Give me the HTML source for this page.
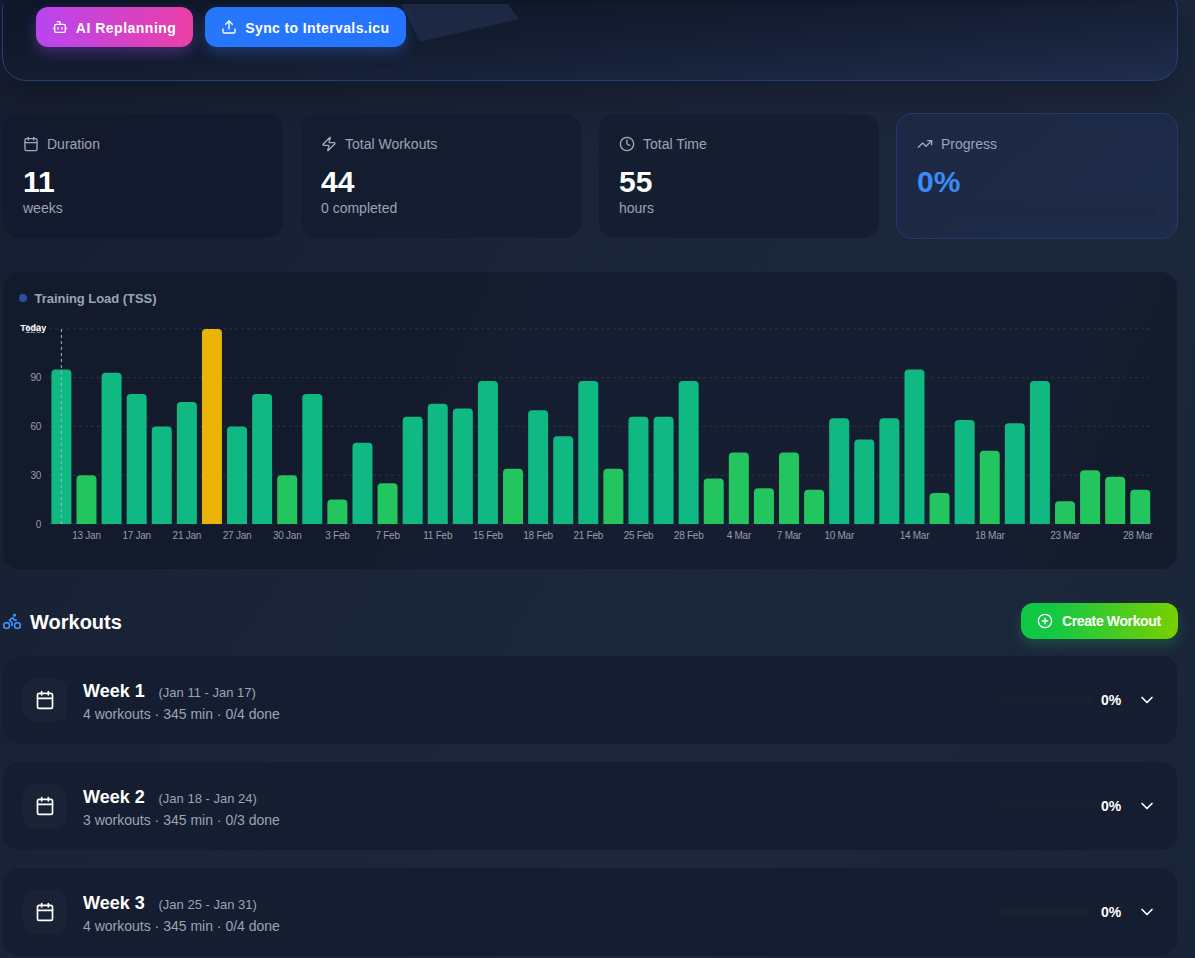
<!DOCTYPE html>
<html><head><meta charset="utf-8">
<style>
html,body{margin:0;padding:0;}
body{width:1195px;height:958px;overflow:hidden;position:relative;
 background:linear-gradient(124deg,#161d30 0%,#182134 20%,#1c263b 50%,#1c273c 70%,#1a2438 100%);
 font-family:"Liberation Sans",sans-serif;}
.abs{position:absolute;}
.t{white-space:nowrap;}
.hdr{left:2px;top:-14px;width:1174px;height:93px;border:1px solid #21407a;border-radius:24px;
 background:linear-gradient(to bottom right,#0d1525 0%,#131c30 50%,#1f2c4c 100%);box-shadow:0 12px 36px rgba(0,0,0,0.28);}
.card{border-radius:16px;}
.stat{background:#131b2e;}
.stat.hl{background:linear-gradient(135deg,#1c2843,#1e2b49);border:1px solid #1f3c72;box-sizing:border-box;}
.chart{background:linear-gradient(112deg,#131a2c 0%,#131a2c 35%,#151e30 42%,#151e30 86%,#131a2c 93%,#131a2c 100%);}
.week{background:#151d30;}
.ibox{background:#1a2335;border-radius:12px;}
.btn{border-radius:12px;}
</style></head><body>
<div class="abs hdr"></div>
<svg class="abs" style="left:0;top:0" width="1195" height="60"><defs><linearGradient id="tg" x1="0" x2="1" y1="0" y2="0"><stop offset="0" stop-color="#0f1627" stop-opacity="1"/><stop offset="0.6" stop-color="#0f1627" stop-opacity="0.8"/><stop offset="1" stop-color="#0f1627" stop-opacity="0"/></linearGradient></defs><rect x="3" y="0" width="1173" height="4" fill="url(#tg)"/><polygon points="401,4 507.5,4 519,19.3 420.2,41.6" fill="#1d2943"/></svg>
<div class="abs btn" style="left:36px;top:7px;width:157px;height:40px;background:linear-gradient(90deg,#b845f0,#ec3fa6);box-shadow:0 6px 14px rgba(168,85,247,0.30)"></div>
<svg class="abs" style="left:52px;top:19px" width="16" height="16" viewBox="0 0 24 24" fill="none" stroke="#ffffff" stroke-width="2" stroke-linecap="round" stroke-linejoin="round"><path d="M12 8V4H8"/><rect width="16" height="12" x="4" y="8" rx="2"/><path d="M2 14h2"/><path d="M20 14h2"/><path d="M15 13v2"/><path d="M9 13v2"/></svg>
<div class="abs t" style="left:75.8px;top:20.75px;font-size:14px;line-height:14px;color:#ffffff;font-weight:700;letter-spacing:0.5px;">AI Replanning</div>
<div class="abs btn" style="left:205px;top:7px;width:201px;height:40px;background:linear-gradient(90deg,#2777fd,#2474ff);box-shadow:0 6px 14px rgba(59,130,246,0.30)"></div>
<svg class="abs" style="left:221px;top:19px" width="16" height="16" viewBox="0 0 24 24" fill="none" stroke="#ffffff" stroke-width="2" stroke-linecap="round" stroke-linejoin="round"><path d="M21 15v4a2 2 0 0 1-2 2H5a2 2 0 0 1-2-2v-4"/><polyline points="17 8 12 3 7 8"/><line x1="12" x2="12" y1="3" y2="15"/></svg>
<div class="abs t" style="left:245.3px;top:20.95px;font-size:14px;line-height:14px;color:#ffffff;font-weight:700;letter-spacing:0.38px;">Sync to Intervals.icu</div>
<div class="abs card stat" style="left:3px;top:114px;width:280px;height:124px;background:#131a2d;"></div><svg class="abs" style="left:23px;top:136px" width="16" height="16" viewBox="0 0 24 24" fill="none" stroke="#a0abbb" stroke-width="2" stroke-linecap="round" stroke-linejoin="round"><path d="M8 2v4"/><path d="M16 2v4"/><rect width="18" height="18" x="3" y="4" rx="2"/><path d="M3 10h18"/></svg><div class="abs t" style="left:47px;top:137.15px;font-size:14px;line-height:14px;color:#9ba4b4;font-weight:400;letter-spacing:0px;">Duration</div><div class="abs t" style="left:23px;top:167.20px;font-size:30px;line-height:30px;color:#ffffff;font-weight:700;letter-spacing:0px;">11</div><div class="abs t" style="left:23px;top:200.95px;font-size:14px;line-height:14px;color:#9ba4b4;font-weight:400;letter-spacing:0px;">weeks</div><div class="abs card stat" style="left:301px;top:114px;width:280px;height:124px;background:#141c2f;"></div><svg class="abs" style="left:321px;top:136px" width="16" height="16" viewBox="0 0 24 24" fill="none" stroke="#a0abbb" stroke-width="2" stroke-linecap="round" stroke-linejoin="round"><path d="M4 14a1 1 0 0 1-.78-1.63l9.9-10.2a.5.5 0 0 1 .86.46l-1.92 6.02A1 1 0 0 0 13 10h7a1 1 0 0 1 .78 1.63l-9.9 10.2a.5.5 0 0 1-.86-.46l1.92-6.02A1 1 0 0 0 11 14z"/></svg><div class="abs t" style="left:345px;top:137.15px;font-size:14px;line-height:14px;color:#9ba4b4;font-weight:400;letter-spacing:0px;">Total Workouts</div><div class="abs t" style="left:321px;top:167.20px;font-size:30px;line-height:30px;color:#ffffff;font-weight:700;letter-spacing:0px;">44</div><div class="abs t" style="left:321px;top:200.95px;font-size:14px;line-height:14px;color:#9ba4b4;font-weight:400;letter-spacing:0px;">0 completed</div><div class="abs card stat" style="left:599px;top:114px;width:280px;height:124px;background:#151e31;"></div><svg class="abs" style="left:619px;top:136px" width="16" height="16" viewBox="0 0 24 24" fill="none" stroke="#a0abbb" stroke-width="2" stroke-linecap="round" stroke-linejoin="round"><circle cx="12" cy="12" r="10"/><polyline points="12 6 12 12 16 14"/></svg><div class="abs t" style="left:643px;top:137.15px;font-size:14px;line-height:14px;color:#9ba4b4;font-weight:400;letter-spacing:0px;">Total Time</div><div class="abs t" style="left:619px;top:167.20px;font-size:30px;line-height:30px;color:#ffffff;font-weight:700;letter-spacing:0px;">55</div><div class="abs t" style="left:619px;top:200.95px;font-size:14px;line-height:14px;color:#9ba4b4;font-weight:400;letter-spacing:0px;">hours</div><div class="abs card stat hl" style="left:896px;top:113px;width:282px;height:126px;"></div><svg class="abs" style="left:917px;top:136px" width="16" height="16" viewBox="0 0 24 24" fill="none" stroke="#a0abbb" stroke-width="2" stroke-linecap="round" stroke-linejoin="round"><polyline points="22 7 13.5 15.5 8.5 10.5 2 17"/><polyline points="16 7 22 7 22 13"/></svg><div class="abs t" style="left:941px;top:137.15px;font-size:14px;line-height:14px;color:#9ba4b4;font-weight:400;letter-spacing:0px;">Progress</div><div class="abs t" style="left:917px;top:167.20px;font-size:30px;line-height:30px;color:#3b8bf7;font-weight:700;letter-spacing:0px;">0%</div><div class="abs" style="left:917px;top:206px;width:240px;height:8px;border-radius:4px;background:#1c2844"></div>
<div class="abs card chart" style="left:3px;top:272px;width:1174px;height:297px"></div>
<div class="abs" style="left:19px;top:294px;width:8px;height:8px;border-radius:4px;background:#2650a0"></div>
<div class="abs t" style="left:34.6px;top:292.30px;font-size:13px;line-height:13px;color:#9ba4b4;font-weight:700;letter-spacing:-0.05px;">Training Load (TSS)</div>
<svg class="abs" style="left:0;top:0" width="1195" height="958" viewBox="0 0 1195 958">
<g><line x1="49" x2="1152" y1="523.90" y2="523.90" stroke="#2a3344" stroke-dasharray="3 3"/><line x1="49" x2="1152" y1="475.15" y2="475.15" stroke="#2a3344" stroke-dasharray="3 3"/><line x1="49" x2="1152" y1="426.40" y2="426.40" stroke="#2a3344" stroke-dasharray="3 3"/><line x1="49" x2="1152" y1="377.65" y2="377.65" stroke="#2a3344" stroke-dasharray="3 3"/><line x1="49" x2="1152" y1="328.90" y2="328.90" stroke="#2a3344" stroke-dasharray="3 3"/></g>
<g><path d="M51.40,523.90V373.52Q51.40,369.52 55.40,369.52H67.40Q71.40,369.52 71.40,373.52V523.90Z" fill="#10b981"/><path d="M76.49,523.90V479.15Q76.49,475.15 80.49,475.15H92.49Q96.49,475.15 96.49,479.15V523.90Z" fill="#22c55e"/><path d="M101.58,523.90V376.77Q101.58,372.77 105.58,372.77H117.58Q121.58,372.77 121.58,376.77V523.90Z" fill="#10b981"/><path d="M126.67,523.90V397.90Q126.67,393.90 130.67,393.90H142.67Q146.67,393.90 146.67,397.90V523.90Z" fill="#10b981"/><path d="M151.76,523.90V430.40Q151.76,426.40 155.76,426.40H167.76Q171.76,426.40 171.76,430.40V523.90Z" fill="#10b981"/><path d="M176.85,523.90V406.02Q176.85,402.02 180.85,402.02H192.85Q196.85,402.02 196.85,406.02V523.90Z" fill="#10b981"/><path d="M201.94,523.90V332.90Q201.94,328.90 205.94,328.90H217.94Q221.94,328.90 221.94,332.90V523.90Z" fill="#eab308"/><path d="M227.03,523.90V430.40Q227.03,426.40 231.03,426.40H243.03Q247.03,426.40 247.03,430.40V523.90Z" fill="#10b981"/><path d="M252.12,523.90V397.90Q252.12,393.90 256.12,393.90H268.12Q272.12,393.90 272.12,397.90V523.90Z" fill="#10b981"/><path d="M277.21,523.90V479.15Q277.21,475.15 281.21,475.15H293.21Q297.21,475.15 297.21,479.15V523.90Z" fill="#22c55e"/><path d="M302.30,523.90V397.90Q302.30,393.90 306.30,393.90H318.30Q322.30,393.90 322.30,397.90V523.90Z" fill="#10b981"/><path d="M327.39,523.90V503.52Q327.39,499.52 331.39,499.52H343.39Q347.39,499.52 347.39,503.52V523.90Z" fill="#22c55e"/><path d="M352.48,523.90V446.65Q352.48,442.65 356.48,442.65H368.48Q372.48,442.65 372.48,446.65V523.90Z" fill="#10b981"/><path d="M377.57,523.90V487.27Q377.57,483.27 381.57,483.27H393.57Q397.57,483.27 397.57,487.27V523.90Z" fill="#22c55e"/><path d="M402.66,523.90V420.65Q402.66,416.65 406.66,416.65H418.66Q422.66,416.65 422.66,420.65V523.90Z" fill="#10b981"/><path d="M427.75,523.90V407.65Q427.75,403.65 431.75,403.65H443.75Q447.75,403.65 447.75,407.65V523.90Z" fill="#10b981"/><path d="M452.84,523.90V412.52Q452.84,408.52 456.84,408.52H468.84Q472.84,408.52 472.84,412.52V523.90Z" fill="#10b981"/><path d="M477.93,523.90V384.90Q477.93,380.90 481.93,380.90H493.93Q497.93,380.90 497.93,384.90V523.90Z" fill="#10b981"/><path d="M503.02,523.90V472.65Q503.02,468.65 507.02,468.65H519.02Q523.02,468.65 523.02,472.65V523.90Z" fill="#22c55e"/><path d="M528.11,523.90V414.15Q528.11,410.15 532.11,410.15H544.11Q548.11,410.15 548.11,414.15V523.90Z" fill="#10b981"/><path d="M553.20,523.90V440.15Q553.20,436.15 557.20,436.15H569.20Q573.20,436.15 573.20,440.15V523.90Z" fill="#10b981"/><path d="M578.29,523.90V384.90Q578.29,380.90 582.29,380.90H594.29Q598.29,380.90 598.29,384.90V523.90Z" fill="#10b981"/><path d="M603.38,523.90V472.65Q603.38,468.65 607.38,468.65H619.38Q623.38,468.65 623.38,472.65V523.90Z" fill="#22c55e"/><path d="M628.47,523.90V420.65Q628.47,416.65 632.47,416.65H644.47Q648.47,416.65 648.47,420.65V523.90Z" fill="#10b981"/><path d="M653.56,523.90V420.65Q653.56,416.65 657.56,416.65H669.56Q673.56,416.65 673.56,420.65V523.90Z" fill="#10b981"/><path d="M678.65,523.90V384.90Q678.65,380.90 682.65,380.90H694.65Q698.65,380.90 698.65,384.90V523.90Z" fill="#10b981"/><path d="M703.74,523.90V482.40Q703.74,478.40 707.74,478.40H719.74Q723.74,478.40 723.74,482.40V523.90Z" fill="#22c55e"/><path d="M728.83,523.90V456.40Q728.83,452.40 732.83,452.40H744.83Q748.83,452.40 748.83,456.40V523.90Z" fill="#22c55e"/><path d="M753.92,523.90V492.15Q753.92,488.15 757.92,488.15H769.92Q773.92,488.15 773.92,492.15V523.90Z" fill="#22c55e"/><path d="M779.01,523.90V456.40Q779.01,452.40 783.01,452.40H795.01Q799.01,452.40 799.01,456.40V523.90Z" fill="#22c55e"/><path d="M804.10,523.90V493.77Q804.10,489.77 808.10,489.77H820.10Q824.10,489.77 824.10,493.77V523.90Z" fill="#22c55e"/><path d="M829.19,523.90V422.27Q829.19,418.27 833.19,418.27H845.19Q849.19,418.27 849.19,422.27V523.90Z" fill="#10b981"/><path d="M854.28,523.90V443.40Q854.28,439.40 858.28,439.40H870.28Q874.28,439.40 874.28,443.40V523.90Z" fill="#10b981"/><path d="M879.37,523.90V422.27Q879.37,418.27 883.37,418.27H895.37Q899.37,418.27 899.37,422.27V523.90Z" fill="#10b981"/><path d="M904.46,523.90V373.52Q904.46,369.52 908.46,369.52H920.46Q924.46,369.52 924.46,373.52V523.90Z" fill="#10b981"/><path d="M929.55,523.90V497.02Q929.55,493.02 933.55,493.02H945.55Q949.55,493.02 949.55,497.02V523.90Z" fill="#22c55e"/><path d="M954.64,523.90V423.90Q954.64,419.90 958.64,419.90H970.64Q974.64,419.90 974.64,423.90V523.90Z" fill="#10b981"/><path d="M979.73,523.90V454.77Q979.73,450.77 983.73,450.77H995.73Q999.73,450.77 999.73,454.77V523.90Z" fill="#22c55e"/><path d="M1004.82,523.90V427.15Q1004.82,423.15 1008.82,423.15H1020.82Q1024.82,423.15 1024.82,427.15V523.90Z" fill="#10b981"/><path d="M1029.91,523.90V384.90Q1029.91,380.90 1033.91,380.90H1045.91Q1049.91,380.90 1049.91,384.90V523.90Z" fill="#10b981"/><path d="M1055.00,523.90V505.15Q1055.00,501.15 1059.00,501.15H1071.00Q1075.00,501.15 1075.00,505.15V523.90Z" fill="#22c55e"/><path d="M1080.09,523.90V474.27Q1080.09,470.27 1084.09,470.27H1096.09Q1100.09,470.27 1100.09,474.27V523.90Z" fill="#22c55e"/><path d="M1105.18,523.90V480.77Q1105.18,476.77 1109.18,476.77H1121.18Q1125.18,476.77 1125.18,480.77V523.90Z" fill="#22c55e"/><path d="M1130.27,523.90V493.77Q1130.27,489.77 1134.27,489.77H1146.27Q1150.27,489.77 1150.27,493.77V523.90Z" fill="#22c55e"/></g>
<line x1="61.4" x2="61.4" y1="329" y2="524" stroke="#a3b6cc" stroke-dasharray="3 3" stroke-width="1"/>
<g font-family="Liberation Sans, sans-serif" font-size="10" letter-spacing="-0.25" fill="#959cab"><text x="41" y="527.50" text-anchor="end">0</text><text x="41" y="478.75" text-anchor="end">30</text><text x="41" y="430.00" text-anchor="end">60</text><text x="41" y="381.25" text-anchor="end">90</text><text x="41" y="332.50" text-anchor="end">120</text><text x="86.49" y="539.3" text-anchor="middle">13 Jan</text><text x="136.67" y="539.3" text-anchor="middle">17 Jan</text><text x="186.85" y="539.3" text-anchor="middle">21 Jan</text><text x="237.03" y="539.3" text-anchor="middle">27 Jan</text><text x="287.21" y="539.3" text-anchor="middle">30 Jan</text><text x="337.39" y="539.3" text-anchor="middle">3 Feb</text><text x="387.57" y="539.3" text-anchor="middle">7 Feb</text><text x="437.75" y="539.3" text-anchor="middle">11 Feb</text><text x="487.93" y="539.3" text-anchor="middle">15 Feb</text><text x="538.11" y="539.3" text-anchor="middle">18 Feb</text><text x="588.29" y="539.3" text-anchor="middle">21 Feb</text><text x="638.47" y="539.3" text-anchor="middle">25 Feb</text><text x="688.65" y="539.3" text-anchor="middle">28 Feb</text><text x="738.83" y="539.3" text-anchor="middle">4 Mar</text><text x="789.01" y="539.3" text-anchor="middle">7 Mar</text><text x="839.19" y="539.3" text-anchor="middle">10 Mar</text><text x="914.46" y="539.3" text-anchor="middle">14 Mar</text><text x="989.73" y="539.3" text-anchor="middle">18 Mar</text><text x="1065.00" y="539.3" text-anchor="middle">23 Mar</text><text x="1137.77" y="539.3" text-anchor="middle">28 Mar</text></g>
<text x="20.3" y="331.2" font-family="Liberation Sans, sans-serif" font-size="9" font-weight="bold" fill="#ffffff">Today</text>
</svg>
<svg class="abs" style="left:2px;top:611px" width="20" height="20" viewBox="0 0 24 24" fill="none" stroke="#3b8ff8" stroke-width="2" stroke-linecap="round" stroke-linejoin="round"><circle cx="18.5" cy="17.5" r="3.5"/><circle cx="5.5" cy="17.5" r="3.5"/><circle cx="15" cy="5" r="1"/><path d="M12 17.5V14l-3-3 4-3 2 3h2"/></svg>
<div class="abs t" style="left:30px;top:612.07px;font-size:20px;line-height:20px;color:#ffffff;font-weight:700;letter-spacing:0px;">Workouts</div>
<div class="abs btn" style="left:1021px;top:603px;width:157px;height:36px;border-radius:12px;background:linear-gradient(90deg,#0cc845 0%,#14c843 20%,#78d000 100%);box-shadow:0 6px 14px rgba(34,197,94,0.25)"></div>
<svg class="abs" style="left:1037px;top:613px" width="16" height="16" viewBox="0 0 24 24" fill="none" stroke="#ffffff" stroke-width="2" stroke-linecap="round" stroke-linejoin="round"><circle cx="12" cy="12" r="10"/><path d="M8 12h8"/><path d="M12 8v8"/></svg>
<div class="abs t" style="left:1062px;top:613.75px;font-size:14px;line-height:14px;color:#ffffff;font-weight:700;letter-spacing:-0.38px;">Create Workout</div>
<div class="abs card week" style="left:3px;top:656px;width:1174px;height:88px"></div><div class="abs ibox" style="left:23px;top:678px;width:44px;height:44px"></div><svg class="abs" style="left:35px;top:690px" width="20" height="20" viewBox="0 0 24 24" fill="none" stroke="#ffffff" stroke-width="2" stroke-linecap="round" stroke-linejoin="round"><path d="M8 2v4"/><path d="M16 2v4"/><rect width="18" height="18" x="3" y="4" rx="2"/><path d="M3 10h18"/></svg><div class="abs t" style="left:83px;top:681.56px;font-size:18px;line-height:18px;color:#ffffff;font-weight:700;letter-spacing:0px;">Week 1</div><div class="abs t" style="left:158.5px;top:685.80px;font-size:13px;line-height:13px;color:#9ba4b4;font-weight:400;letter-spacing:0px;">(Jan 11 - Jan 17)</div><div class="abs t" style="left:83px;top:706.85px;font-size:14px;line-height:14px;color:#9ba4b4;font-weight:400;letter-spacing:0px;">4 workouts · 345 min · 0/4 done</div><div class="abs" style="left:997px;top:696px;width:96px;height:8px;border-radius:4px;background:#152031"></div><div class="abs t" style="left:1101px;top:692.65px;font-size:14px;line-height:14px;color:#ffffff;font-weight:700;letter-spacing:0px;">0%</div><svg class="abs" style="left:1137px;top:690px" width="20" height="20" viewBox="0 0 24 24" fill="none" stroke="#ffffff" stroke-width="2" stroke-linecap="round" stroke-linejoin="round"><path d="m6 9 6 6 6-6"/></svg><div class="abs card week" style="left:3px;top:762px;width:1174px;height:88px"></div><div class="abs ibox" style="left:23px;top:784px;width:44px;height:44px"></div><svg class="abs" style="left:35px;top:796px" width="20" height="20" viewBox="0 0 24 24" fill="none" stroke="#ffffff" stroke-width="2" stroke-linecap="round" stroke-linejoin="round"><path d="M8 2v4"/><path d="M16 2v4"/><rect width="18" height="18" x="3" y="4" rx="2"/><path d="M3 10h18"/></svg><div class="abs t" style="left:83px;top:787.56px;font-size:18px;line-height:18px;color:#ffffff;font-weight:700;letter-spacing:0px;">Week 2</div><div class="abs t" style="left:158.5px;top:791.80px;font-size:13px;line-height:13px;color:#9ba4b4;font-weight:400;letter-spacing:0px;">(Jan 18 - Jan 24)</div><div class="abs t" style="left:83px;top:812.85px;font-size:14px;line-height:14px;color:#9ba4b4;font-weight:400;letter-spacing:0px;">3 workouts · 345 min · 0/3 done</div><div class="abs" style="left:997px;top:802px;width:96px;height:8px;border-radius:4px;background:#152031"></div><div class="abs t" style="left:1101px;top:798.65px;font-size:14px;line-height:14px;color:#ffffff;font-weight:700;letter-spacing:0px;">0%</div><svg class="abs" style="left:1137px;top:796px" width="20" height="20" viewBox="0 0 24 24" fill="none" stroke="#ffffff" stroke-width="2" stroke-linecap="round" stroke-linejoin="round"><path d="m6 9 6 6 6-6"/></svg><div class="abs card week" style="left:3px;top:868px;width:1174px;height:88px"></div><div class="abs ibox" style="left:23px;top:890px;width:44px;height:44px"></div><svg class="abs" style="left:35px;top:902px" width="20" height="20" viewBox="0 0 24 24" fill="none" stroke="#ffffff" stroke-width="2" stroke-linecap="round" stroke-linejoin="round"><path d="M8 2v4"/><path d="M16 2v4"/><rect width="18" height="18" x="3" y="4" rx="2"/><path d="M3 10h18"/></svg><div class="abs t" style="left:83px;top:893.56px;font-size:18px;line-height:18px;color:#ffffff;font-weight:700;letter-spacing:0px;">Week 3</div><div class="abs t" style="left:158.5px;top:897.80px;font-size:13px;line-height:13px;color:#9ba4b4;font-weight:400;letter-spacing:0px;">(Jan 25 - Jan 31)</div><div class="abs t" style="left:83px;top:918.85px;font-size:14px;line-height:14px;color:#9ba4b4;font-weight:400;letter-spacing:0px;">4 workouts · 345 min · 0/4 done</div><div class="abs" style="left:997px;top:908px;width:96px;height:8px;border-radius:4px;background:#152031"></div><div class="abs t" style="left:1101px;top:904.65px;font-size:14px;line-height:14px;color:#ffffff;font-weight:700;letter-spacing:0px;">0%</div><svg class="abs" style="left:1137px;top:902px" width="20" height="20" viewBox="0 0 24 24" fill="none" stroke="#ffffff" stroke-width="2" stroke-linecap="round" stroke-linejoin="round"><path d="m6 9 6 6 6-6"/></svg>
</body></html>
